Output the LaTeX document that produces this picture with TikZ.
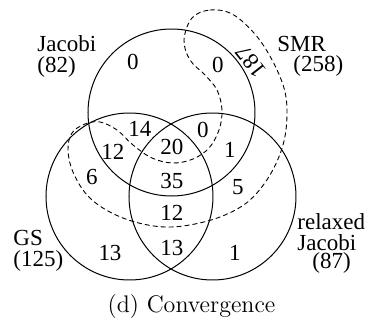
\documentclass[tikz,border=0pt]{standalone}
\usepackage{fontspec}
\newfontfamily\vennfont{Liberation Serif}
\usetikzlibrary{calc,positioning}

\tikzset{
  setline/.style={line width=0.5pt},
  smrline/.style={line width=0.45pt,dash pattern=on 2.2pt off 1.8pt},
  cnt/.style={font=\vennfont\fontsize{11.5}{10.5}\selectfont,inner sep=0pt},
  setlabel/.style={cnt,align=left,anchor=west}
}

\begin{document}
\begin{tikzpicture}[x=0.5pt,y=-0.5pt,line join=round,line cap=round]
    \useasboundingbox (0,0) rectangle (366,327);
    \coordinate (J) at (171.5,112.5);
    \coordinate (G) at (129.5,196.5);
    \coordinate (R) at (212.5,196.5);
    \draw[setline] (J) circle[radius=83.5];
    \draw[setline] (G) circle[radius=83.5];
    \draw[setline] (R) circle[radius=83.5];
    % SMR region
    \draw[smrline] plot[smooth cycle,tension=0.6] coordinates {
      (192,18) (210,10) (232,14) (254,33) (271,58) (284,88) (287,115)
      (283,145) (270,175) (250,200) (225,215) (195,224) (165,227)
      (135,222) (108,211) (87,195) (73,172) (68,150) (72,133) (85,124)
      (100,122) (117,130) (133,145) (152,158) (173,163) (193,159)
      (209,148) (219,130) (222,110) (217,90) (205,75) (190,60) (184,40)};
    \node[setlabel] (jac) at (37,56) {Jacobi\\(82)};
    \node[setlabel] (smr) at (277,44) {SMR};
    \node[setlabel] (smrn) at (293,66) {(258)};
    \node[setlabel] (gs) at (13,251) {GS\\(125)};
    \node[setlabel] (rj) at (297,232) {relaxed\\Jacobi};
    \node[setlabel] (rjn) at (312,263) {(87)};
    \node[cnt,rotate=128] (n187) at (251,62) {187};
    \node[cnt] (nj) at (133,62) {0};
    \node[cnt] (njs) at (218,65) {0};
    \node[cnt] (njg) at (140,129) {14};
    \node[cnt] (njgx) at (113,152) {12};
    \node[cnt] (nall) at (172,147) {20};
    \node[cnt] (njrs) at (203,130) {0};
    \node[cnt] (njr) at (230,150) {1};
    \node[cnt] (ngs) at (92,177) {6};
    \node[cnt] (njgr) at (172,181) {35};
    \node[cnt] (nrs) at (238,187) {5};
    \node[cnt] (ngrs) at (172,213) {12};
    \node[cnt] (ng) at (110,253) {13};
    \node[cnt] (ngr) at (172,248) {13};
    \node[cnt] (nr) at (235,253) {1};
    \node[font=\fontsize{12}{14}\selectfont] (cap) at (191.5,307) {(d) Convergence};
\end{tikzpicture}
\end{document}
